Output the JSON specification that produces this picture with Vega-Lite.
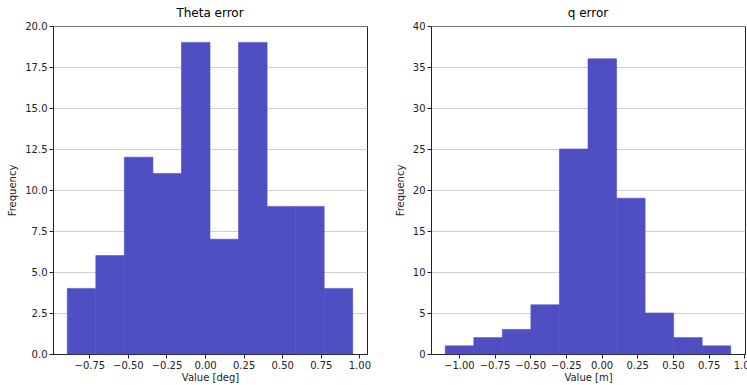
{
  "$schema": "https://vega.github.io/schema/vega-lite/v6.json",
  "padding": {"left": 7, "top": 6, "right": 0, "bottom": 0},
  "spacing": 23,
  "config": {
    "font": "DejaVu Sans",
    "view": {"stroke": "#222222", "strokeWidth": 1},
    "axis": {
      "labelFont": "DejaVu Sans", "labelFontSize": 10, "labelColor": "#222222",
      "titleFont": "DejaVu Sans", "titleFontSize": 10, "titleFontWeight": "normal", "titleColor": "#222222",
      "domainColor": "#222222", "tickColor": "#222222", "tickSize": 4, "labelPadding": 2,
      "gridColor": "#b0b0b0", "gridOpacity": 0.6, "gridWidth": 1
    },
    "axisX": {"grid": false, "titlePadding": 2, "labelOverlap": false, "labelFlush": false},
    "axisY": {"zindex": 1, "titlePadding": 7},
    "title": {"font": "DejaVu Sans", "fontSize": 12, "fontWeight": "normal", "color": "#000000", "offset": 1}
  },
  "hconcat": [
    {
      "title": "Theta error",
      "width": 314, "height": 328,
      "data": {"values": [
        {"start": -0.893, "end": -0.708, "count": 4},
        {"start": -0.708, "end": -0.523, "count": 6},
        {"start": -0.523, "end": -0.338, "count": 12},
        {"start": -0.338, "end": -0.153, "count": 11},
        {"start": -0.153, "end": 0.032, "count": 19},
        {"start": 0.032, "end": 0.217, "count": 7},
        {"start": 0.217, "end": 0.402, "count": 19},
        {"start": 0.402, "end": 0.587, "count": 9},
        {"start": 0.587, "end": 0.772, "count": 9},
        {"start": 0.772, "end": 0.957, "count": 4}
      ]},
      "mark": {"type": "rect", "color": "#4f4fc3", "stroke": "#4f4fc3", "strokeWidth": 0.6},
      "encoding": {
        "x": {"field": "start", "type": "quantitative", "title": "Value [deg]",
              "scale": {"domain": [-0.9855, 1.0495], "nice": false, "zero": false},
              "axis": {"values": [-0.75, -0.5, -0.25, 0, 0.25, 0.5, 0.75, 1.0], "format": ".2f"}},
        "x2": {"field": "end"},
        "y": {"field": "count", "type": "quantitative", "title": "Frequency",
              "scale": {"domain": [0, 20], "nice": false},
              "axis": {"values": [0, 2.5, 5, 7.5, 10, 12.5, 15, 17.5, 20], "format": ".1f"}},
        "y2": {"datum": 0}
      }
    },
    {
      "title": "q error",
      "width": 314, "height": 328,
      "data": {"values": [
        {"start": -1.095, "end": -0.895, "count": 1},
        {"start": -0.895, "end": -0.695, "count": 2},
        {"start": -0.695, "end": -0.495, "count": 3},
        {"start": -0.495, "end": -0.295, "count": 6},
        {"start": -0.295, "end": -0.095, "count": 25},
        {"start": -0.095, "end": 0.105, "count": 36},
        {"start": 0.105, "end": 0.305, "count": 19},
        {"start": 0.305, "end": 0.505, "count": 5},
        {"start": 0.505, "end": 0.705, "count": 2},
        {"start": 0.705, "end": 0.905, "count": 1}
      ]},
      "mark": {"type": "rect", "color": "#4f4fc3", "stroke": "#4f4fc3", "strokeWidth": 0.6},
      "encoding": {
        "x": {"field": "start", "type": "quantitative", "title": "Value [m]",
              "scale": {"domain": [-1.195, 1.005], "nice": false, "zero": false},
              "axis": {"values": [-1, -0.75, -0.5, -0.25, 0, 0.25, 0.5, 0.75, 1.0], "format": ".2f"}},
        "x2": {"field": "end"},
        "y": {"field": "count", "type": "quantitative", "title": "Frequency",
              "scale": {"domain": [0, 40], "nice": false},
              "axis": {"values": [0, 5, 10, 15, 20, 25, 30, 35, 40], "format": "d"}},
        "y2": {"datum": 0}
      }
    }
  ]
}
